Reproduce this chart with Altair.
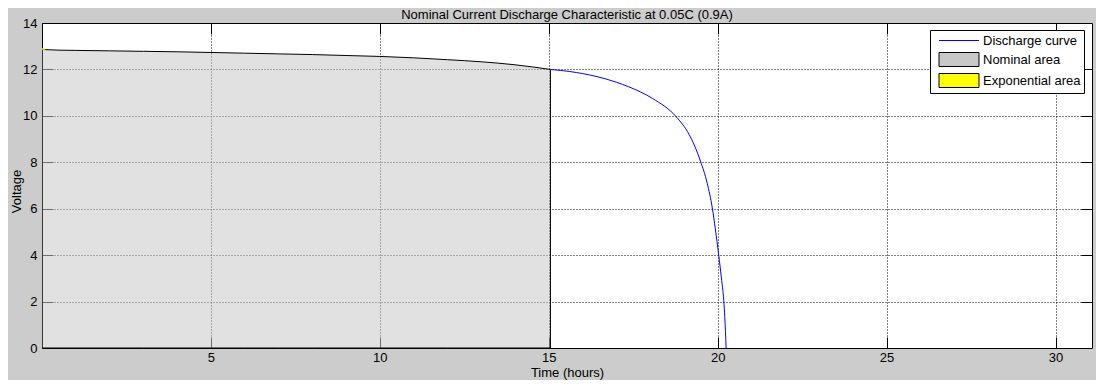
import altair as alt
import pandas as pd

# ---- data ----
t_nominal = [0.0, 0.5, 1, 2, 3, 4, 5, 6, 7, 8, 9, 10, 11, 12, 13, 14, 15.05]
v_nominal = [12.86, 12.83, 12.82, 12.80, 12.78, 12.76, 12.73, 12.70, 12.67,
             12.64, 12.60, 12.56, 12.50, 12.42, 12.33, 12.20, 12.0]

t_discharge = [15.05, 15.62, 16.4, 17.0, 17.37, 18.07, 18.76, 19.15, 19.32,
               19.49, 19.69, 19.84, 19.93, 20.03, 20.11, 20.18, 20.21, 20.25]
v_discharge = [12.0, 11.91, 11.70, 11.45, 11.25, 10.75, 9.98, 9.21, 8.70,
               8.05, 7.10, 6.04, 5.13, 4.01, 3.02, 2.04, 1.34, 0.0]

t_exp = [0.0, 0.1]
v_exp_top = [12.91, 12.89]
v_exp_bottom = [12.85, 12.85]

series = ["Discharge curve", "Nominal area", "Exponential area"]
x_ticks = [5, 10, 15, 20, 25, 30]
y_ticks = [0, 2, 4, 6, 8, 10, 12, 14]
y_inner_ticks = [2, 4, 6, 8, 10, 12]
x_domain = [0, 31.08]
y_domain = [0, 14]

FONT = "Liberation Sans"
W, H = 1050, 325
TICK = 11

df_nom = pd.DataFrame({"t": t_nominal, "v": v_nominal})
df_dis = pd.DataFrame({"t": t_discharge, "v": v_discharge})
df_exp = pd.DataFrame({"t": t_exp, "v": v_exp_top, "v2": v_exp_bottom})
df_leg = pd.DataFrame({"series": series})

xs = alt.Scale(domain=x_domain, nice=False, zero=False)
ys = alt.Scale(domain=y_domain, nice=False, zero=False)

# main axes (bottom / left): labels + dotted grid
x_axis_main = alt.Axis(
    orient="bottom", values=x_ticks, grid=True, gridDash=[1, 2],
    gridColor="black", gridOpacity=1, gridWidth=1, ticks=False, domain=False,
    labelFont=FONT, labelFontSize=13, labelColor="black", labelPadding=3,
    title="Time (hours)", titleFont=FONT, titleFontSize=13,
    titleFontWeight="normal", titleColor="black", titleBaseline="alphabetic",
    titleY=28,
)
y_axis_main = alt.Axis(
    orient="left", values=y_ticks, grid=True, gridDash=[1, 2],
    gridColor="black", gridOpacity=1, gridWidth=1, ticks=False, domain=False,
    labelFont=FONT, labelFontSize=13, labelColor="black", labelPadding=5,
    title="Voltage", titleFont=FONT, titleFontSize=13,
    titleFontWeight="normal", titleColor="black", titleBaseline="middle",
    titleX=-26, titleY=168,
)
# secondary axes (top / right): solid inward tick marks drawn as dashed grid
x_axis_ticks = alt.Axis(
    orient="top", values=x_ticks, grid=True, gridDash=[TICK, H - 2 * TICK],
    gridColor="black", gridOpacity=1, gridWidth=1, ticks=False,
    domain=False, labels=False, title=None,
)
y_axis_ticks = alt.Axis(
    orient="right", values=y_inner_ticks, grid=True, gridDash=[TICK, W - 2 * TICK],
    gridColor="black", gridOpacity=1, gridWidth=1, ticks=False,
    domain=False, labels=False, title=None,
)

discharge = alt.Chart(df_dis).mark_line(
    color="#0000ff", strokeWidth=1, clip=True, interpolate="monotone"
).encode(
    x=alt.X("t:Q", scale=xs, axis=x_axis_main),
    y=alt.Y("v:Q", scale=ys, axis=y_axis_main),
)

nominal = alt.Chart(df_nom).mark_area(
    fill="#c8c8c8", fillOpacity=0.55, stroke="black", strokeWidth=1,
    strokeOpacity=1, clip=True, interpolate="monotone",
).encode(
    x=alt.X("t:Q", scale=xs, axis=x_axis_ticks),
    y=alt.Y("v:Q", scale=ys, axis=y_axis_ticks),
)

exponential = alt.Chart(df_exp).mark_area(fill="#ffff00", clip=True).encode(
    x=alt.X("t:Q", scale=xs, axis=None),
    y=alt.Y("v:Q", scale=ys, axis=None),
    y2="v2:Q",
)

s = 14
hw = 20.0 / (s / 2)
hh = 7.0 / (s / 2)
rect_path = f"M-{hw:.3f},-{hh:.3f}H{hw:.3f}V{hh:.3f}H-{hw:.3f}Z"
line_path = f"M-{hw:.3f},0H{hw:.3f}"

leg = alt.Legend(
    title=None, orient="none", legendX=888, legendY=7, padding=3,
    fillColor="white", strokeColor="black", cornerRadius=0,
    symbolSize=s * s, symbolStrokeWidth=1, symbolOpacity=1,
    symbolOffset=18.5, labelOffset=16.5, rowPadding=2,
    labelFont=FONT, labelFontSize=13, labelColor="black", labelLimit=300,
)

legend_layer = alt.Chart(df_leg).mark_point(filled=True).encode(
    fill=alt.Fill("series:N", scale=alt.Scale(domain=series, range=["transparent", "#c8c8c8", "#ffff00"]), legend=leg),
    stroke=alt.Stroke("series:N", scale=alt.Scale(domain=series, range=["#0000ff", "#000000", "#000000"]), legend=leg),
    shape=alt.Shape("series:N", scale=alt.Scale(domain=series, range=[line_path, rect_path, rect_path]), legend=leg),
    opacity=alt.value(0),
)

chart = alt.layer(nominal, exponential, discharge, legend_layer).resolve_axis(
    x="independent", y="independent"
).properties(
    width=W, height=H,
    view=alt.ViewBackground(fill="white", stroke="black", strokeWidth=1),
    title=alt.TitleParams(
        text="Nominal Current Discharge Characteristic at 0.05C (0.9A)",
        font=FONT, fontSize=13, fontWeight="normal", color="black",
        anchor="middle", baseline="alphabetic", offset=4, dy=19,
    ),
    autosize=alt.AutoSizeParams(type="none"),
    padding={"left": 34, "top": 15, "right": 4, "bottom": 32},
).configure(background="#cccccc").configure_view(fill="white", stroke="black", strokeWidth=1)

chart.save("out.html", embed_options={"renderer": "svg", "actions": False})
